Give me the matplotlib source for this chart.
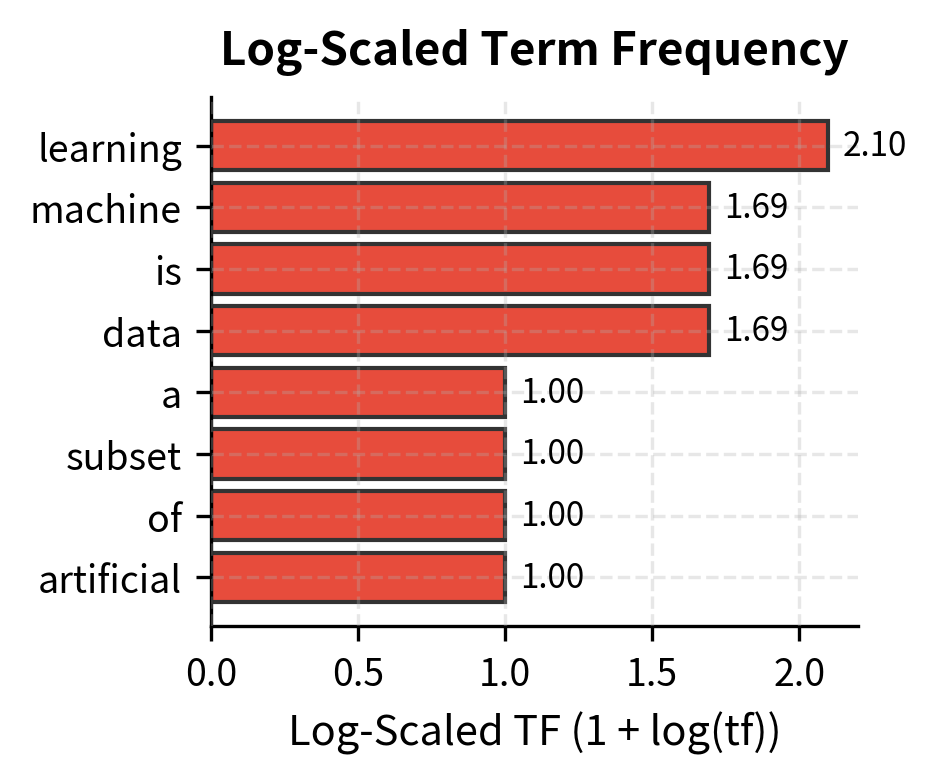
import matplotlib
matplotlib.use('Agg')
import matplotlib.pyplot as plt

plt.rcParams['font.family'] = ['Noto Sans CJK SC', 'DejaVu Sans']

terms = ['learning', 'machine', 'is', 'data', 'a', 'subset', 'of', 'artificial']
scores = [2.0986, 1.6931, 1.6931, 1.6931, 1.0, 1.0, 1.0, 1.0]

fig, ax = plt.subplots(figsize=(3.117, 2.613), dpi=300)

ypos = list(range(len(terms)))[::-1]
bars = ax.barh(ypos, scores, height=0.8, color='#e74c3c', edgecolor='#333333', linewidth=1.0)
ax.set_yticks(ypos)
ax.set_yticklabels(terms, fontsize=9)

for b, s in zip(bars, scores):
    ax.text(b.get_width() + 0.05, b.get_y() + b.get_height() / 2, '%.2f' % s,
            va='center', ha='left', fontsize=8)

ax.set_xlim(0, 2.2)
ax.set_xticks([0, 0.5, 1.0, 1.5, 2.0])
ax.tick_params(axis='x', labelsize=9)
ax.set_xlabel('Log-Scaled TF (1 + log(tf))', fontsize=10)
ax.set_title('Log-Scaled Term Frequency', fontsize=11, fontweight='bold', pad=8)

ax.grid(True, linestyle='--', alpha=0.3)
ax.set_axisbelow(False)
ax.spines['top'].set_visible(False)
ax.spines['right'].set_visible(False)

fig.subplots_adjust(left=0.2257, right=0.9176, top=0.875, bottom=0.2003)
plt.savefig('out.png', dpi=300)
